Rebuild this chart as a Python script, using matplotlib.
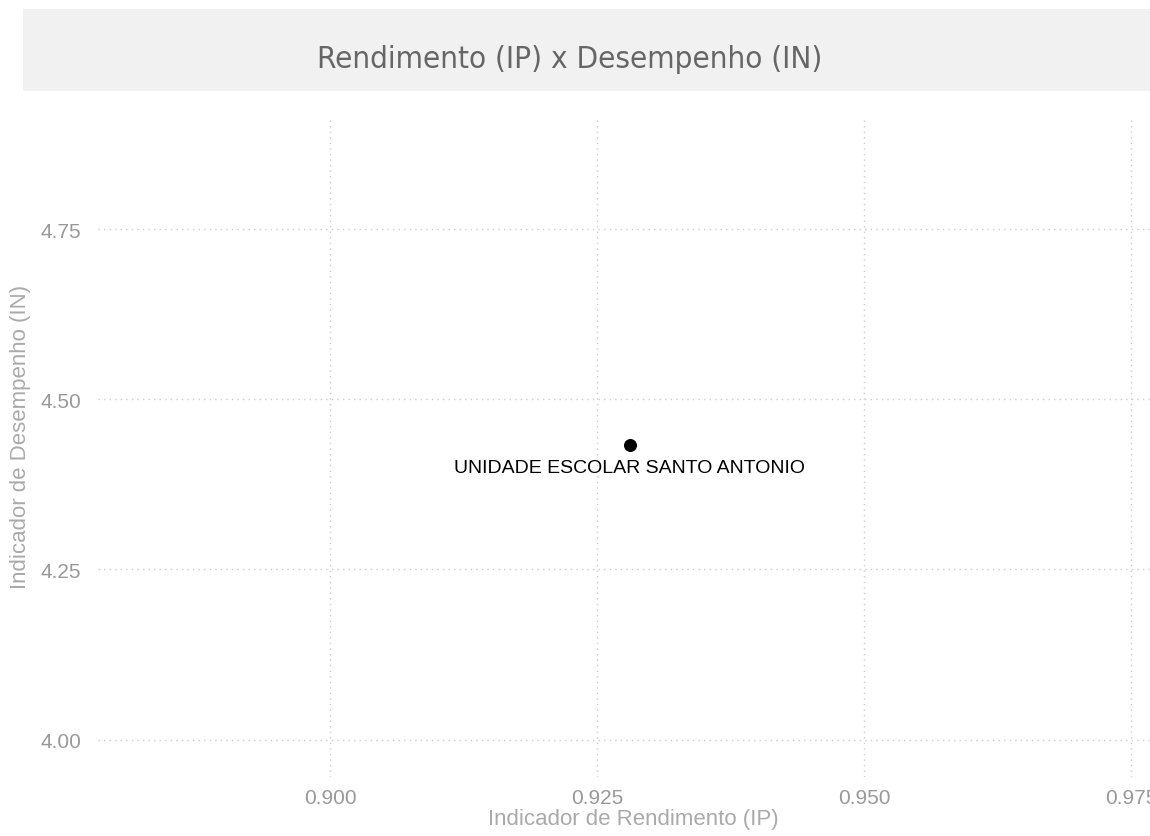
import matplotlib
matplotlib.use("Agg")
import matplotlib.pyplot as plt
from matplotlib.patches import Rectangle

# data
school_names = ["UNIDADE ESCOLAR SANTO ANTONIO"]
ip_values = [0.92805]
in_values = [4.4332]
x_ticks = [0.900, 0.925, 0.950, 0.975]
y_ticks = [4.00, 4.25, 4.50, 4.75]

W, H = 1150, 837
fig = plt.figure(figsize=(W / 100, H / 100), dpi=100)

# grey title band
fig.patches.append(Rectangle((23 / W, 1 - 92 / H), 1.2, 82 / H,
                             transform=fig.transFigure, facecolor="#f1f1f1",
                             edgecolor="none", zorder=0))
fig.text(570 / W, 1 - 57 / H, "Rendimento (IP) x Desempenho (IN)",
         ha="center", va="center_baseline", fontsize=22.5, color="#666666",
         family="DejaVu Sans", fontstretch="condensed")

left, right, top, bottom = 98, 1160, 117, 778
ax = fig.add_axes([left / W, 1 - bottom / H, (right - left) / W, (bottom - top) / H])
ax.set_xlim(0.87828, 0.97772)
ax.set_ylim(3.945, 4.916)

ax.scatter(ip_values, in_values, s=70, color="black", zorder=3, clip_on=False)
for x, y, name in zip(ip_values, in_values, school_names):
    ax.annotate(name, (x, y), xytext=(0, -10), textcoords="offset points",
                ha="center", va="top", fontsize=14, color="black",
                family="Liberation Sans")

ax.set_xticks(x_ticks)
ax.set_xticklabels([f"{v:.3f}" for v in x_ticks])
ax.set_yticks(y_ticks)
ax.set_yticklabels([f"{v:.2f}" for v in y_ticks])
ax.tick_params(length=0, labelsize=15, labelcolor="#999999")
ax.tick_params(axis="x", pad=8)
ax.tick_params(axis="y", pad=12)
for lab in ax.get_xticklabels() + ax.get_yticklabels():
    lab.set_family("Liberation Sans")
ax.grid(True, color="#cccccc", linestyle=(0, (1, 3)), linewidth=1)
ax.set_axisbelow(True)
for s in ax.spines.values():
    s.set_visible(False)

ax.set_xlabel("Indicador de Rendimento (IP)", fontsize=16, color="#aaaaaa",
              family="Liberation Sans", va="center")
ax.set_ylabel("Indicador de Desempenho (IN)", fontsize=16, color="#aaaaaa",
              family="Liberation Sans", va="center")
ax.xaxis.set_label_coords((633 - left) / (right - left), (bottom - 820) / (bottom - top))
ax.yaxis.set_label_coords((21 - left) / (right - left), (bottom - 437) / (bottom - top))

fig.savefig("out.png", dpi=100)
